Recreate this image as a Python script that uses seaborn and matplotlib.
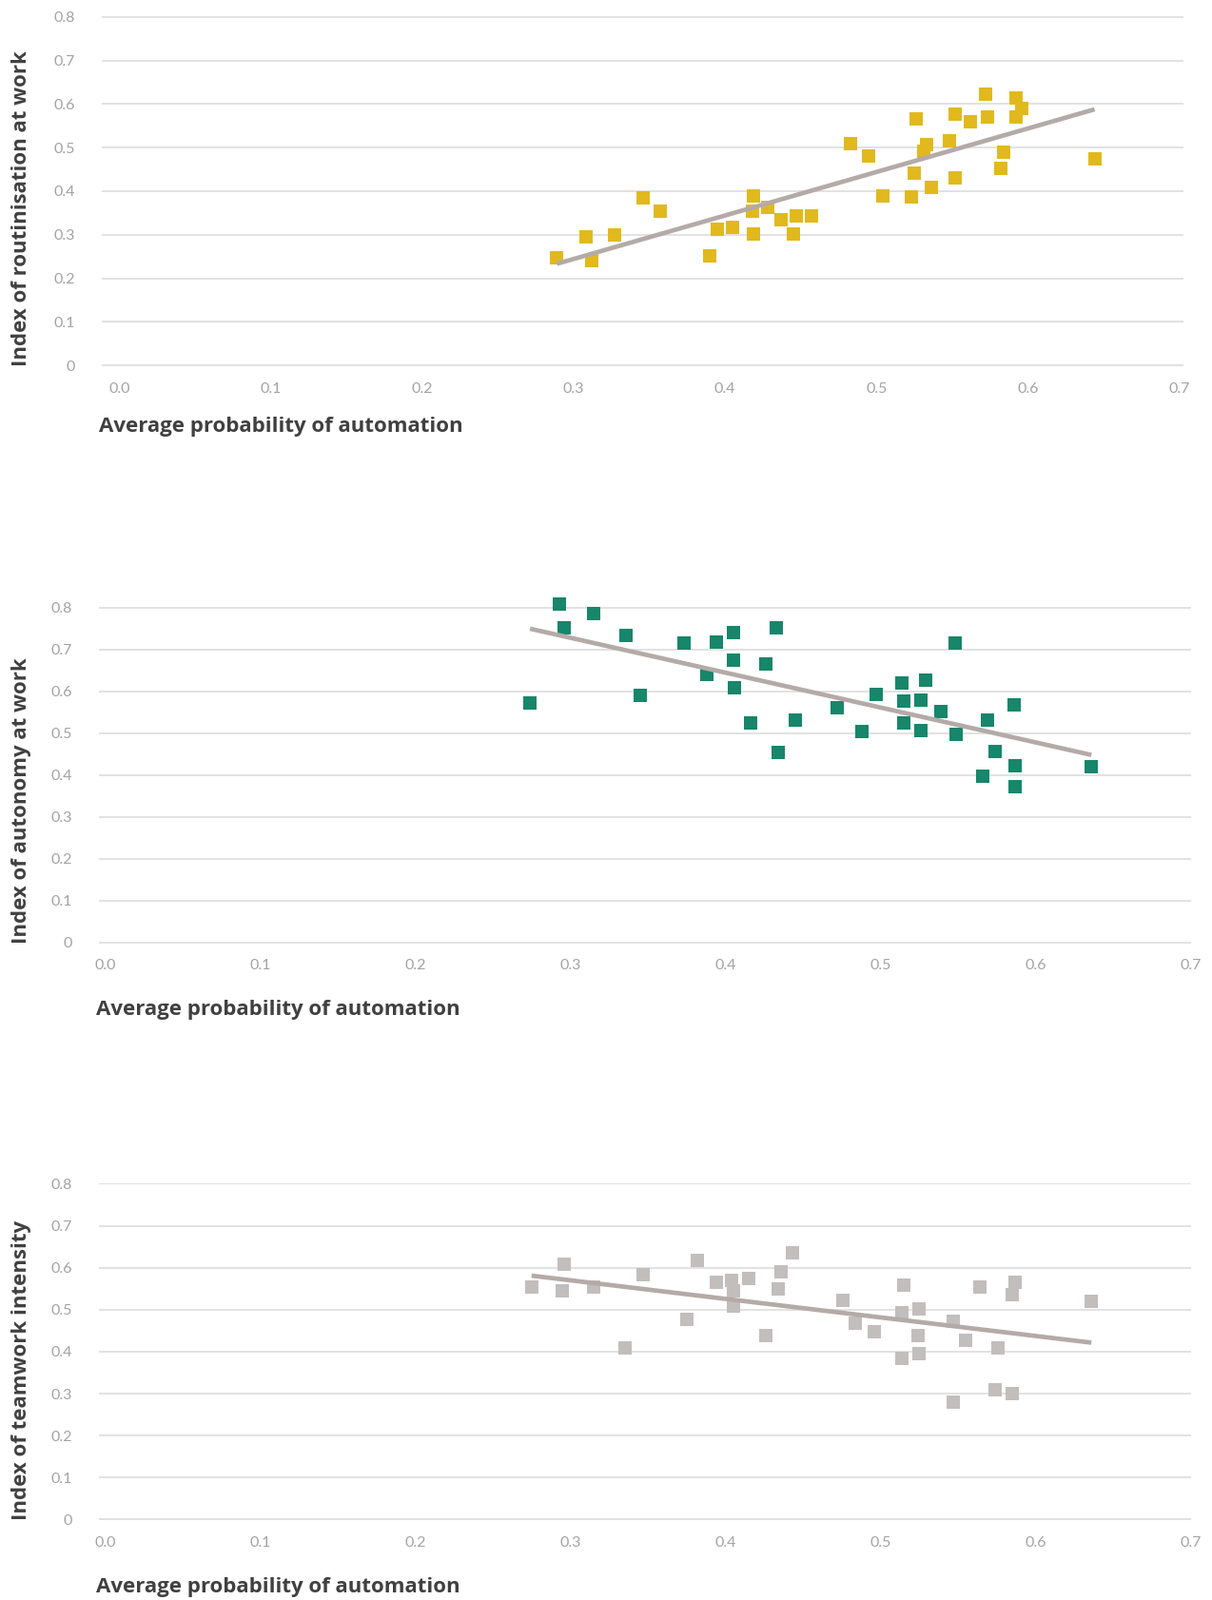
#!/usr/bin/env python3
#===============================================================================
# plot
#===============================================================================

# Imports ======================================================================

import matplotlib
matplotlib.use('Agg')
import matplotlib.pyplot as plt
import pandas as pd
import seaborn as sns


# Data =========================================================================

automation_routine = [
    0.289, 0.308, 0.312, 0.327, 0.346, 0.357, 0.390, 0.395, 0.405, 0.419,
    0.418, 0.419, 0.428, 0.437, 0.447, 0.445, 0.457, 0.483, 0.495, 0.504,
    0.523, 0.526, 0.525, 0.533, 0.531, 0.536, 0.548, 0.552, 0.552, 0.562,
    0.572, 0.573, 0.584, 0.582, 0.592, 0.596, 0.592, 0.644
]
routinisation = [
    0.248, 0.295, 0.241, 0.300, 0.384, 0.354, 0.252, 0.312, 0.317, 0.390,
    0.354, 0.302, 0.362, 0.334, 0.343, 0.302, 0.343, 0.509, 0.481, 0.390,
    0.386, 0.565, 0.442, 0.507, 0.492, 0.408, 0.516, 0.578, 0.431, 0.559,
    0.622, 0.570, 0.490, 0.453, 0.615, 0.589, 0.570, 0.475
]

automation_autonomy = [
    0.274, 0.293, 0.296, 0.315, 0.336, 0.345, 0.373, 0.388, 0.394, 0.405,
    0.405, 0.406, 0.416, 0.426, 0.433, 0.434, 0.445, 0.472, 0.488, 0.497,
    0.514, 0.515, 0.515, 0.526, 0.526, 0.529, 0.539, 0.548, 0.549, 0.569,
    0.566, 0.574, 0.586, 0.587, 0.587, 0.636
]
autonomy = [
    0.573, 0.808, 0.751, 0.785, 0.733, 0.589, 0.715, 0.640, 0.717, 0.740,
    0.674, 0.609, 0.525, 0.665, 0.751, 0.453, 0.530, 0.561, 0.503, 0.593,
    0.620, 0.577, 0.525, 0.579, 0.507, 0.627, 0.552, 0.715, 0.496, 0.530,
    0.396, 0.457, 0.568, 0.421, 0.372, 0.419
]

automation_teamwork = [
    0.275, 0.296, 0.295, 0.315, 0.335, 0.347, 0.375, 0.382, 0.394, 0.404,
    0.405, 0.405, 0.415, 0.426, 0.436, 0.434, 0.443, 0.476, 0.484, 0.496,
    0.514, 0.515, 0.514, 0.525, 0.524, 0.525, 0.547, 0.547, 0.555, 0.564,
    0.576, 0.574, 0.585, 0.587, 0.585, 0.636
]
teamwork = [
    0.553, 0.609, 0.546, 0.553, 0.408, 0.584, 0.478, 0.618, 0.566, 0.571,
    0.546, 0.508, 0.575, 0.438, 0.591, 0.550, 0.636, 0.523, 0.469, 0.447,
    0.492, 0.559, 0.384, 0.503, 0.438, 0.395, 0.472, 0.280, 0.426, 0.553,
    0.408, 0.309, 0.300, 0.566, 0.537, 0.519
]

x_ticks = [0.0, 0.1, 0.2, 0.3, 0.4, 0.5, 0.6, 0.7]
x_tick_labels = ['0.0', '0.1', '0.2', '0.3', '0.4', '0.5', '0.6', '0.7']
y_ticks = [0, 0.1, 0.2, 0.3, 0.4, 0.5, 0.6, 0.7, 0.8]
y_tick_labels = ['0', '0.1', '0.2', '0.3', '0.4', '0.5', '0.6', '0.7', '0.8']

x_title = 'Average probability of automation'

# Style ========================================================================

TREND = '#b4aaa8'
GRID = '#dadada'
TICK = '#a3a3a3'
LABEL = '#404040'
LABEL_FONT = ['Open Sans', 'DejaVu Sans']


# Functions ====================================================================

def draw_panel(fig, rect, xlim, x, y, ylabel, color, xlab_y, ylab_x):
    ax = fig.add_axes(rect)
    data = pd.DataFrame({'x': x, 'y': y})
    sns.scatterplot(
        data=data, x='x', y='y', marker='s', s=88, color=color,
        linewidth=0, ax=ax, zorder=2, clip_on=False
    )
    sns.regplot(
        data=data, x='x', y='y', scatter=False, ci=None, truncate=True,
        color=TREND, ax=ax,
        line_kws={'linewidth': 3.4, 'zorder': 3, 'solid_capstyle': 'butt'}
    )
    ax.set_xlim(xlim)
    ax.set_ylim(-0.002, 0.802)
    ax.set_xticks(x_ticks, x_tick_labels)
    ax.set_yticks(y_ticks, y_tick_labels)
    ax.grid(axis='y', color=GRID, linewidth=1.1)
    ax.grid(axis='x', visible=False)
    ax.set_axisbelow(True)
    ax.tick_params(axis='both', length=0, colors=TICK, labelsize=11.5)
    ax.tick_params(axis='y', pad=20)
    ax.tick_params(axis='x', pad=12)
    sns.despine(ax=ax, left=True, bottom=True)
    ax.set_xlabel(x_title, loc='left', fontweight='bold', color=LABEL,
                  fontsize=16, family=LABEL_FONT)
    ax.xaxis.set_label_coords(-0.003, xlab_y)
    ax.set_ylabel(ylabel, loc='bottom', fontweight='bold', color=LABEL,
                  fontsize=16, family=LABEL_FONT)
    ax.yaxis.set_label_coords(ylab_x, 0)
    return ax


def main():
    sns.set_theme(style='white')
    plt.rcParams['font.family'] = ['Lato', 'DejaVu Sans']
    fig = plt.figure(figsize=(12.74, 16.82), dpi=100)

    draw_panel(
        fig, [0.08399, 0.77111, 0.89246, 0.21879], (-0.0115, 0.7027),
        automation_routine, routinisation, 'Index of routinisation at work',
        '#e1b91e', -0.144, -0.065
    )
    draw_panel(
        fig, [0.08163, 0.41040, 0.90110, 0.21047], (-0.004, 0.7003),
        automation_autonomy, autonomy, 'Index of autonomy at work',
        '#17866a', -0.168, -0.0615
    )
    draw_panel(
        fig, [0.08163, 0.04976, 0.90110, 0.21088], (-0.004, 0.7003),
        automation_teamwork, teamwork, 'Index of teamwork intensity',
        '#c2bebd', -0.169, -0.0615
    )

    fig.savefig('out.png', dpi=100)


# Execute ======================================================================

if __name__ == '__main__':
    main()
